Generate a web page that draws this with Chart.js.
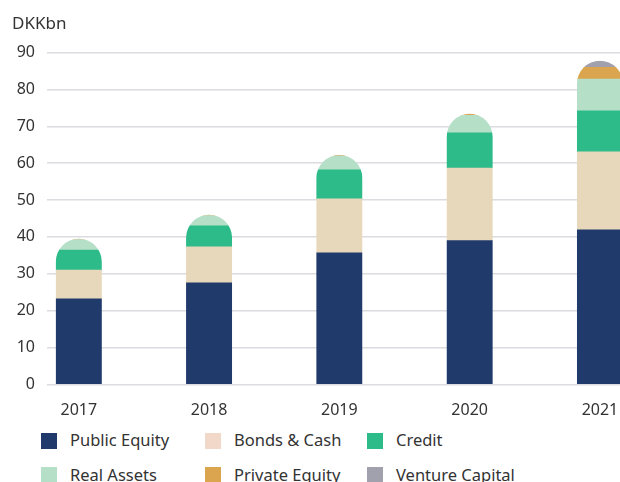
<!DOCTYPE html>
<html>
<head>
<meta charset="utf-8">
<script src="https://cdn.jsdelivr.net/npm/chart.js@4.4.1/dist/chart.umd.min.js"></script>
<style>
  html, body { margin: 0; padding: 0; background: #fff; }
  #wrap { position: relative; width: 620px; height: 482px; overflow: hidden; font-family: "Noto Sans", sans-serif; }
  #myChart { position: absolute; left: 0; top: 0; }
  #legend { position: absolute; left: 41px; top: 423.5px; margin: 0; padding: 0; list-style: none;
            display: grid; grid-template-columns: 164px 162px 160px; grid-auto-rows: 34.3px; }
  #legend li { display: flex; align-items: center; font-size: 16.5px; line-height: 1; color: #333; white-space: nowrap; }
  #legend .box { width: 16px; height: 16px; margin-right: 13px; flex: none; }
</style>
</head>
<body>
<div id="wrap">
  <canvas id="myChart" width="620" height="420"></canvas>
  <ul id="legend"></ul>
</div>
<script>
var years = [2017, 2018, 2019, 2020, 2021];
var publicEquity   = [23.2, 27.5, 35.7, 39.0, 41.9];
var bondsCash      = [7.8, 9.8, 14.6, 19.7, 21.2];
var credit         = [5.4, 5.7, 7.9, 9.5, 11.1];
var realAssets     = [2.9, 2.8, 3.8, 4.8, 8.6];
var privateEquity  = [0.2, 0.2, 0.2, 0.4, 3.2];
var ventureCapital = [0, 0, 0, 0, 1.8];
var yTicks = [0, 10, 20, 30, 40, 50, 60, 70, 80, 90];

var seriesNames  = ['Public Equity', 'Bonds & Cash', 'Credit', 'Real Assets', 'Private Equity', 'Venture Capital'];
var seriesValues = [publicEquity, bondsCash, credit, realAssets, privateEquity, ventureCapital];
var seriesColors = ['#203a6b', '#e8d8bb', '#2ebb8a', '#b6dfc8', '#dba54f', '#a0a1ad'];
var legendColors = ['#203a6b', '#f1d8c8', '#2ebb8a', '#b6dfc8', '#dba54f', '#a0a1ad'];

var barWidth = 46;
var xMin = 2016.756, xMax = 2021.154;
var textColor = '#333';

// total of each stack, used for the rounded top
var totals = years.map(function(y, i) {
    return seriesValues.reduce(function(s, arr) { return s + arr[i]; }, 0);
});

// clip every stack to a rectangle with a half-circle on top
var domeClip = {
    id: 'domeClip',
    beforeDatasetsDraw: function(chart) {
        var ctx = chart.ctx, xs = chart.scales.x, ys = chart.scales.y;
        var half = barWidth / 2;
        ctx.save();
        ctx.beginPath();
        years.forEach(function(yr, i) {
            var cx = xs.getPixelForValue(yr);
            var top = ys.getPixelForValue(totals[i]);
            var base = ys.getPixelForValue(0);
            ctx.moveTo(cx - half, base);
            ctx.lineTo(cx - half, top + half);
            ctx.arc(cx, top + half, half, Math.PI, 0);
            ctx.lineTo(cx + half, base);
            ctx.closePath();
        });
        ctx.clip();
    },
    afterDatasetsDraw: function(chart) {
        chart.ctx.restore();
    }
};

var tickFont = { family: 'Noto Sans', size: 16 };

var chart = new Chart(document.getElementById('myChart'), {
    type: 'bar',
    data: {
        labels: years,
        datasets: seriesNames.map(function(name, i) {
            return {
                label: name,
                data: seriesValues[i],
                backgroundColor: seriesColors[i],
                borderWidth: 0,
                barThickness: barWidth
            };
        })
    },
    options: {
        responsive: false,
        animation: false,
        layout: { padding: { left: 12, right: 0, top: 0, bottom: 0 } },
        plugins: {
            legend: { display: false },
            tooltip: { enabled: false },
            title: {
                display: true,
                text: 'DKKbn',
                align: 'start',
                color: textColor,
                font: { family: 'Noto Sans', size: 17, weight: 'normal', lineHeight: 1.2 },
                padding: { top: 14, bottom: 18.2 }
            }
        },
        scales: {
            x: {
                type: 'linear',
                stacked: true,
                offset: false,
                min: xMin,
                max: xMax,
                grid: { display: false, offset: false },
                border: { display: false },
                afterBuildTicks: function(s) { s.ticks = years.map(function(v) { return { value: v }; }); },
                afterFit: function(s) { s.height = 35.7; s.paddingLeft = 0; s.paddingRight = 0; },
                ticks: {
                    padding: 9,
                    color: textColor,
                    font: tickFont,
                    callback: function(v) { return String(v); }
                }
            },
            y: {
                stacked: true,
                min: 0,
                max: 90,
                afterBuildTicks: function(s) { s.ticks = yTicks.map(function(v) { return { value: v }; }); },
                afterFit: function(s) { s.width = 35; },
                grid: { color: '#dcdce0', lineWidth: 1.5, drawTicks: false },
                border: { display: false },
                ticks: { padding: 12, color: textColor, font: tickFont }
            }
        }
    },
    plugins: [domeClip]
});

// html legend in a 3 column grid
var items = chart.options.plugins.legend.labels.generateLabels(chart);
var ul = document.getElementById('legend');
items.forEach(function(item) {
    var li = document.createElement('li');
    var box = document.createElement('span');
    box.className = 'box';
    box.style.background = legendColors[item.datasetIndex] || item.fillStyle;
    li.appendChild(box);
    li.appendChild(document.createTextNode(item.text));
    ul.appendChild(li);
});
</script>
</body>
</html>
